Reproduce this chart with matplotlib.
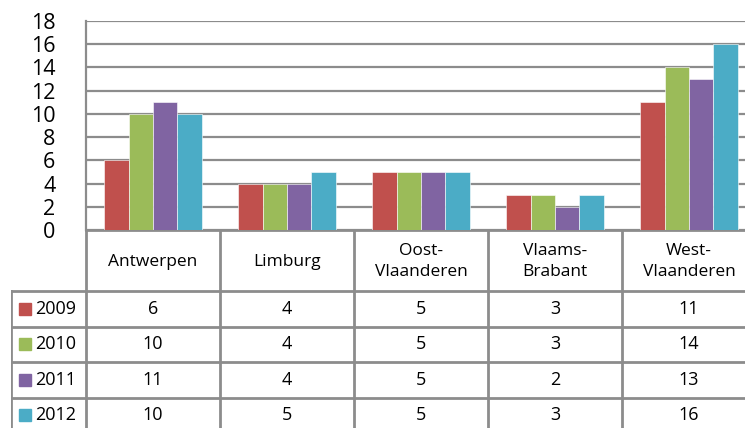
import matplotlib.pyplot as plt
import numpy as np

# data
provinces = ["Antwerpen", "Limburg", "Oost-\nVlaanderen", "Vlaams-\nBrabant", "West-\nVlaanderen"]
years = ["2009", "2010", "2011", "2012"]
v2009 = [6, 4, 5, 3, 11]
v2010 = [10, 4, 5, 3, 14]
v2011 = [11, 4, 5, 2, 13]
v2012 = [10, 5, 5, 3, 16]
series = [v2009, v2010, v2011, v2012]
colors = ["#C0504D", "#9BBB59", "#8064A2", "#4BACC6"]
yticks = [0, 2, 4, 6, 8, 10, 12, 14, 16, 18]

plt.rcParams["font.family"] = ["Open Sans", "DejaVu Sans"]
grey = "#8C8C8C"

W, H = 745, 428
fig = plt.figure(figsize=(W / 100, H / 100), dpi=100)

# pixel layout
left, top, bottom, colw = 86, 21, 230, 134
ncat = len(provinces)
right = left + colw * ncat

ax = fig.add_axes([left / W, (H - bottom) / H, (right - left) / W, (bottom - top) / H])
x = np.arange(ncat) + 0.5
bw = 0.182
for i, (vals, c) in enumerate(zip(series, colors)):
    ax.bar(x + (i - 1.5) * bw, vals, width=bw, color=c, edgecolor="white", linewidth=0.4, zorder=3)
ax.set_xlim(0, ncat)
ax.set_ylim(0, 18)
ax.set_yticks(yticks)
ax.set_yticklabels([str(t) for t in yticks], fontsize=15.5)
ax.tick_params(axis="y", length=0, pad=22)
ax.set_xticks([])
ax.grid(axis="y", color=grey, linewidth=1.6, zorder=0)
for s in ["top", "right", "bottom"]:
    ax.spines[s].set_visible(False)
ax.spines["left"].set_color(grey)
ax.spines["left"].set_linewidth(1.6)

# data table below
tl = 11
th = H - bottom
tab = fig.add_axes([tl / W, 0, (right - tl) / W, th / H])
x0 = -(left - tl) / colw
tab.set_xlim(x0, ncat)
tab.set_ylim(th, 0)  # pixel rows from top of table
tab.axis("off")
hdr = 61
rowh = 35.5
lw = 2
for k in range(ncat + 1):
    tab.plot([k, k], [0, th], color=grey, lw=lw, clip_on=False)
tab.plot([x0, x0], [hdr, th], color=grey, lw=lw)
tab.plot([0, ncat], [0, 0], color=grey, lw=lw)
for r in range(len(years)):
    y = hdr + r * rowh
    tab.plot([x0, ncat], [y, y], color=grey, lw=lw)

for k, name in enumerate(provinces):
    tab.text(k + 0.5, hdr / 2 + 1, name, ha="center", va="center", fontsize=12.5, linespacing=1.4)

for r, (yr, vals, c) in enumerate(zip(years, series, colors)):
    yc = hdr + (r + 0.5) * rowh
    tab.add_patch(plt.Rectangle((x0 + 0.06, yc - 6), 0.09, 12, color=c))
    tab.text(x0 + 0.18, yc, yr, ha="left", va="center", fontsize=13)
    for k, v in enumerate(vals):
        tab.text(k + 0.5, yc, str(v), ha="center", va="center", fontsize=13)

fig.savefig("out.png", dpi=100)
